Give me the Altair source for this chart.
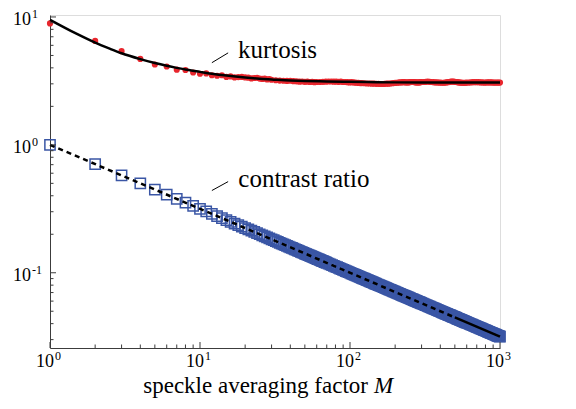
import altair as alt
import pandas as pd

# ---------------- data ----------------
# kurtosis samples (red dots)
kurt_M = (list(range(1, 31)) + list(range(32, 61, 2)) + list(range(63, 121, 3))
          + list(range(125, 301, 5)) + list(range(310, 601, 10)) + list(range(620, 1001, 20)))
kurt_vals = [
    8.9, 6.5, 5.4, 4.7, 4.25, 4.1, 3.87, 3.85, 3.68, 3.6,
    3.62, 3.5, 3.47, 3.5, 3.4, 3.43, 3.37, 3.39, 3.4, 3.37,
    3.35, 3.31, 3.33, 3.34, 3.3, 3.28, 3.3, 3.25, 3.27, 3.23,
    3.2, 3.18, 3.17, 3.16, 3.17, 3.15, 3.14, 3.12, 3.13, 3.11, 3.12, 3.1, 3.11, 3.09, 3.1,
    3.1, 3.11, 3.12, 3.13, 3.13, 3.12, 3.12, 3.11, 3.12, 3.1,
    3.1, 3.09, 3.08, 3.09, 3.08, 3.07, 3.06, 3.05, 3.04, 3.04,
    3.03, 3.02, 3.02, 3.01, 3.01, 3.0, 3.0, 2.99, 2.99, 3.0, 3.01, 3.01,
    3.02, 3.03, 3.04, 3.05, 3.06, 3.07, 3.08, 3.08, 3.09, 3.09, 3.08, 3.08,
    3.08, 3.09, 3.1, 3.1, 3.1, 3.09, 3.08, 3.08, 3.08, 3.08, 3.09, 3.1,
    3.1, 3.11, 3.12, 3.11, 3.1, 3.09, 3.08, 3.08, 3.07, 3.07,
    3.06, 3.06, 3.07, 3.08, 3.09, 3.1, 3.12, 3.13, 3.12, 3.11,
    3.1, 3.09, 3.08, 3.07, 3.07, 3.06, 3.06, 3.06, 3.06, 3.07,
    3.07, 3.08, 3.09, 3.09, 3.09, 3.09, 3.08, 3.08, 3.07, 3.07,
    3.08, 3.08, 3.08, 3.08, 3.07, 3.07, 3.07, 3.07, 3.07, 3.07,
]

# kurtosis fit (solid black line)
fit_M = [1, 1.5, 2, 2.5, 3, 4, 5, 6, 7, 8, 10, 12, 15, 20, 25, 30, 40, 50,
         70, 100, 150, 200, 300, 500, 700, 1000]
fit_kurt = [9.5, 7.4, 6.3, 5.65, 5.2, 4.68, 4.36, 4.15, 4.0, 3.88, 3.72, 3.6, 3.48,
            3.36, 3.29, 3.25, 3.19, 3.16, 3.13, 3.11, 3.09, 3.08, 3.075, 3.07,
            3.07, 3.07]

# contrast ratio samples (blue open squares)
con_M = (list(range(1, 71)) + list(range(72, 151, 2)) + list(range(153, 301, 3))
         + list(range(305, 601, 5)) + list(range(610, 1001, 10)))
con_vals = [
    1.0, 0.7071, 0.5774, 0.5, 0.4472, 0.4082, 0.378, 0.3536, 0.3333, 0.3162,
    0.3015, 0.2887, 0.2774, 0.2673, 0.2582, 0.25, 0.2425, 0.2357, 0.2294, 0.2236,
    0.2182, 0.2132, 0.2085, 0.2041, 0.2, 0.1961, 0.1925, 0.189, 0.1857, 0.1826,
    0.1796, 0.1768, 0.1741, 0.1715, 0.169, 0.1667, 0.1644, 0.1622, 0.1601, 0.1581,
    0.1562, 0.1543, 0.1525, 0.1508, 0.1491, 0.1474, 0.1459, 0.1443, 0.1429, 0.1414,
    0.14, 0.1387, 0.1374, 0.1361, 0.1348, 0.1336, 0.1325, 0.1313, 0.1302, 0.1291,
    0.128, 0.127, 0.126, 0.125, 0.124, 0.1231, 0.1222, 0.1213, 0.1204, 0.1195,
    0.11785, 0.11625, 0.11471, 0.11323, 0.1118, 0.11043, 0.10911, 0.10783, 0.1066, 0.10541,
    0.10426, 0.10314, 0.10206, 0.10102, 0.1, 0.09901, 0.09806, 0.09713, 0.09623, 0.09535,
    0.09449, 0.09366, 0.09285, 0.09206, 0.09129, 0.09054, 0.0898, 0.08909, 0.08839, 0.0877,
    0.08704, 0.08639, 0.08575, 0.08513, 0.08452, 0.08392, 0.08333, 0.08276, 0.0822, 0.08165,
    0.08085, 0.08006, 0.0793, 0.07857, 0.07785, 0.07715, 0.07647, 0.07581, 0.07516, 0.07454,
    0.07392, 0.07332, 0.07274, 0.07217, 0.07161, 0.07107, 0.07053, 0.07001, 0.0695, 0.06901,
    0.06852, 0.06804, 0.06757, 0.06712, 0.06667, 0.06623, 0.0658, 0.06537, 0.06496, 0.06455,
    0.06415, 0.06376, 0.06337, 0.06299, 0.06262, 0.06226, 0.0619, 0.06155, 0.0612, 0.06086,
    0.06052, 0.06019, 0.05987, 0.05955, 0.05923, 0.05893, 0.05862, 0.05832, 0.05803, 0.05774,
    0.05726, 0.0568, 0.05634, 0.0559, 0.05547, 0.05505, 0.05464, 0.05423, 0.05384, 0.05345,
    0.05307, 0.0527, 0.05234, 0.05199, 0.05164, 0.0513, 0.05096, 0.05064, 0.05032, 0.05,
    0.04969, 0.04939, 0.04909, 0.0488, 0.04851, 0.04822, 0.04795, 0.04767, 0.0474, 0.04714,
    0.04688, 0.04663, 0.04637, 0.04613, 0.04588, 0.04564, 0.04541, 0.04518, 0.04495, 0.04472,
    0.0445, 0.04428, 0.04407, 0.04385, 0.04364, 0.04344, 0.04323, 0.04303, 0.04284, 0.04264,
    0.04245, 0.04226, 0.04207, 0.04189, 0.0417, 0.04152, 0.04134, 0.04117, 0.041, 0.04082,
    0.04049, 0.04016, 0.03984, 0.03953, 0.03922, 0.03892, 0.03863, 0.03835, 0.03807, 0.0378,
    0.03753, 0.03727, 0.03701, 0.03676, 0.03651, 0.03627, 0.03604, 0.03581, 0.03558, 0.03536,
    0.03514, 0.03492, 0.03471, 0.0345, 0.0343, 0.0341, 0.0339, 0.03371, 0.03352, 0.03333,
    0.03315, 0.03297, 0.03279, 0.03262, 0.03244, 0.03227, 0.03211, 0.03194, 0.03178, 0.03162,
]

# contrast ratio fit (dashed, then solid at the end)
dash_M = [1, 500]
dash_vals = [1.0, 0.04472]
solid_M = [500, 1000]
solid_vals = [0.04472, 0.03162]

# ticks and tick labels
x_major = [1, 10, 100, 1000]
x_exp = ["0", "1", "2", "3"]
x_minor = [2, 3, 4, 5, 6, 7, 8, 9, 20, 30, 40, 50, 60, 70, 80, 90,
           200, 300, 400, 500, 600, 700, 800, 900]
y_major = [0.1, 1, 10]
y_exp = ["-1", "0", "1"]
y_minor = [0.03, 0.04, 0.05, 0.06, 0.07, 0.08, 0.09,
           0.2, 0.3, 0.4, 0.5, 0.6, 0.7, 0.8, 0.9,
           2, 3, 4, 5, 6, 7, 8, 9]

# annotations (data coordinates)
ann_text = ["kurtosis", "contrast ratio"]
ann_M = [17.9, 18.0]
ann_v = [4.75, 0.47]
lead_M1 = [12.0, 12.0]
lead_M2 = [15.4, 15.4]
lead_v1 = [4.39, 0.4395]
lead_v2 = [5.24, 0.516]

assert len(kurt_M) == len(kurt_vals)
assert len(con_M) == len(con_vals)

# ---------------- chart ----------------
W, H = 450, 333
SERIF = "Liberation Serif"
RED = "#e8262d"
BLUE = "#3a56a5"
AX = "#3c3c3c"

xscale = alt.Scale(type="log", domain=[1, 1000], nice=False)
yscale = alt.Scale(type="log", domain=[0.0258, 10.36], nice=False)

xaxis = alt.Axis(values=x_major, ticks=False, tickSize=0, grid=False, domain=True,
                 domainColor=AX, domainWidth=1, labels=False, title=None)
yaxis = alt.Axis(values=y_major, ticks=False, tickSize=0, grid=False, domain=True,
                 domainColor=AX, domainWidth=1, labels=False, title=None)

X = alt.X("M:Q", scale=xscale, axis=xaxis)
Y = alt.Y("v:Q", scale=yscale, axis=yaxis)

df_k = pd.DataFrame({"M": kurt_M, "v": kurt_vals})
df_fit = pd.DataFrame({"M": fit_M, "v": fit_kurt})
df_c = pd.DataFrame({"M": con_M, "v": con_vals})
df_dash = pd.DataFrame({"M": dash_M, "v": dash_vals})
df_solid = pd.DataFrame({"M": solid_M, "v": solid_vals})

squares = alt.Chart(df_c).mark_point(shape="square", size=105, filled=False,
                                     stroke=BLUE, strokeWidth=1.5, opacity=1).encode(x=X, y=Y)
dashed = alt.Chart(df_dash).mark_line(color="black", strokeWidth=2.5,
                                      strokeDash=[5, 4]).encode(x=X, y=Y)
solid = alt.Chart(df_solid).mark_line(color="black", strokeWidth=2.5).encode(x=X, y=Y)
dots = alt.Chart(df_k).mark_circle(size=38, color=RED, opacity=1).encode(x=X, y=Y)
fitline = alt.Chart(df_fit).mark_line(color="black", strokeWidth=2.5,
                                      interpolate="monotone").encode(x=X, y=Y)

xt_major = alt.Chart(pd.DataFrame({"M": x_major})).mark_rule(color=AX, strokeWidth=1).encode(
    x=X, y=alt.value(H), y2=alt.value(H - 6))
xt_minor = alt.Chart(pd.DataFrame({"M": x_minor})).mark_rule(color=AX, strokeWidth=1).encode(
    x=X, y=alt.value(H), y2=alt.value(H - 3.5))
yt_major = alt.Chart(pd.DataFrame({"v": y_major})).mark_rule(color=AX, strokeWidth=1).encode(
    y=Y, x=alt.value(0), x2=alt.value(6))
yt_minor = alt.Chart(pd.DataFrame({"v": y_minor})).mark_rule(color=AX, strokeWidth=1).encode(
    y=Y, x=alt.value(0), x2=alt.value(3.5))

# tick labels: "10" with a raised exponent
df_xl = pd.DataFrame({"M": x_major, "e": x_exp, "b": ["10"] * 4})
xl_base = alt.Chart(df_xl).mark_text(font=SERIF, fontSize=18, align="right", baseline="alphabetic",
                                     dx=4, color="black").encode(x=X, y=alt.value(H + 19), text="b:N")
xl_exp = alt.Chart(df_xl).mark_text(font=SERIF, fontSize=12, align="left", baseline="alphabetic",
                                    dx=5, dy=-7, color="black").encode(x=X, y=alt.value(H + 19), text="e:N")
df_yl = pd.DataFrame({"v": y_major, "e": y_exp, "b": ["10"] * 3})
yl_base = alt.Chart(df_yl).mark_text(font=SERIF, fontSize=18, align="left", baseline="middle",
                                     dy=3, color="black").encode(y=Y, x=alt.value(-37), text="b:N")
yl_exp = alt.Chart(df_yl).mark_text(font=SERIF, fontSize=12, align="left", baseline="middle",
                                    dy=-2.5, color="black").encode(y=Y, x=alt.value(-18), text="e:N")

ann = alt.Chart(pd.DataFrame({"M": ann_M, "v": ann_v, "t": ann_text})).mark_text(
    font=SERIF, fontSize=25, align="left", baseline="alphabetic", color="black").encode(
    x=X, y=Y, text="t:N")
leaders = alt.Chart(pd.DataFrame({"M": lead_M1, "M2": lead_M2, "v": lead_v1, "v2": lead_v2})).mark_rule(
    color="black", strokeWidth=1).encode(x=X, x2="M2:Q", y=Y, y2="v2:Q")

title_main = alt.Chart(pd.DataFrame({"t": ["speckle averaging factor"]})).mark_text(
    font=SERIF, fontSize=23, align="right", baseline="alphabetic", color="black").encode(
    text="t:N", x=alt.value(318), y=alt.value(H + 45))
title_M = alt.Chart(pd.DataFrame({"t": ["M"]})).mark_text(
    font=SERIF, fontSize=23, fontStyle="italic", align="left", baseline="alphabetic",
    color="black").encode(text="t:N", x=alt.value(324), y=alt.value(H + 45))

chart = alt.layer(
    squares, dashed, solid, dots, fitline,
    xt_major, xt_minor, yt_major, yt_minor,
    xl_base, xl_exp, yl_base, yl_exp,
    leaders, ann, title_main, title_M,
).properties(
    width=W, height=H,
    padding={"left": 42, "top": 7, "right": 60, "bottom": 55},
    autosize=alt.AutoSizeParams(type="none"),
).configure_view(stroke=None).configure(background="white")

chart.save("out.html", embed_options={"renderer": "svg", "actions": False})
